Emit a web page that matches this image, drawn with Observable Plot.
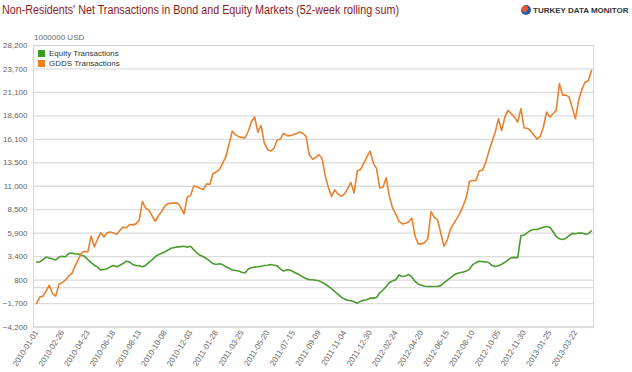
<!DOCTYPE html>
<html>
<head>
<meta charset="utf-8">
<script src="https://cdn.jsdelivr.net/npm/d3@7"></script>
<script src="https://cdn.jsdelivr.net/npm/@observablehq/plot@0.6"></script>
<style>
  html, body { margin: 0; padding: 0; background: #fff; }
  #wrap { position: relative; width: 632px; height: 372px; overflow: hidden; font-family: "Liberation Sans", Arial, sans-serif; }
  #title { position: absolute; left: 2px; top: 3px; font-size: 12.5px; color: #8a1c1c; white-space: nowrap; transform: scaleX(0.86); transform-origin: left top; }
  #logo { position: absolute; left: 521px; top: 5px; font-size: 8px; font-weight: bold; color: #333; white-space: nowrap; display: flex; align-items: center; }
  #logo .globe { width: 10px; height: 10px; border-radius: 50%; background: radial-gradient(circle at 35% 35%, #e8563a 0 35%, #2a5ea8 36% 100%); margin-right: 2px; }
  #unit { position: absolute; left: 34px; top: 33px; font-size: 8px; color: #666; }
  #legend { position: absolute; left: 38px; top: 49px; font-size: 8px; color: #333; background: #fff; padding-right: 4px; }
  #legend div { display: flex; align-items: center; height: 9.5px; }
  #legend span.sw { width: 7px; height: 7px; margin-right: 4px; display: inline-block; }
  #chart { position: absolute; left: 0; top: 0; }
</style>
</head>
<body>
<div id="wrap">
  <div id="chart"></div>
  <div id="title">Non-Residents' Net Transactions in Bond and Equity Markets (52-week rolling sum)</div>
  <div id="logo"><span class="globe"></span>TURKEY DATA MONITOR</div>
  <div id="unit">1000000 USD</div>
  <div id="legend">
    <div><span class="sw" style="background:#3f9a22"></span>Equity Transactions</div>
    <div><span class="sw" style="background:#ef7f1f"></span>GDDS Transactions</div>
  </div>
</div>
<script>
// Weekly observations starting on this date
const startDate = "2010-01-01";

const equity = [
  2810, 2810, 3070, 3350, 3250, 3140, 3030, 3350, 3430, 3390,
  3720, 3790, 3680, 3680, 3540, 3430, 3070, 2740, 2450, 2240,
  1910, 1980, 2050, 2270, 2420, 2270, 2450, 2630, 2890, 2810,
  2520, 2420, 2380, 2270, 2420, 2740, 3030, 3390, 3610, 3750,
  3900, 4110, 4290, 4370, 4440, 4470, 4510, 4400, 4510, 4150,
  3790, 3540, 3390, 3170, 2890, 2630, 2520, 2600, 2520, 2270,
  2130, 1910, 1870, 1800, 1660, 1590, 2020, 2160, 2240, 2270,
  2340, 2420, 2450, 2520, 2450, 2380, 2050, 1800, 1950, 1910,
  1730, 1550, 1370, 1150, 970, 830, 830, 790, 720, 570,
  360, 140, -110, -440, -730, -1010, -1230, -1340, -1410, -1520,
  -1660, -1450, -1340, -1300, -1120, -1120, -1050, -550, -260, 110,
  540, 720, 830, 1370, 1190, 1260, 1410, 1150, 650, 390,
  250, 140, 110, 110, 110, 110, 210, 500, 760, 1040,
  1330, 1530, 1620, 1700, 1800, 2020, 2520, 2740, 2880, 2850,
  2810, 2740, 2410, 2300, 2380, 2560, 2770, 3030, 3280, 3320,
  3280, 5620, 5700, 5950, 6200, 6310, 6310, 6450, 6560, 6630,
  6560, 6090, 5550, 5300, 5230, 5340, 5620, 5880, 5840, 5910,
  5910, 5800, 5840, 6170
];

const gdds = [
  -1700, -1010, -910, -360, 250, -650, -910, 360, 540, 790,
  1260, 1510, 2340, 3070, 3790, 3970, 3900, 5590, 4440, 5230,
  5950, 5480, 5950, 6030, 5920, 5770, 6210, 6570, 6500, 6860,
  6820, 6930, 7330, 9380, 8660, 8480, 7830, 7220, 7830, 8300,
  8910, 9130, 9200, 9200, 9200, 8730, 8050, 9850, 10000, 11010,
  10940, 10790, 10650, 11260, 11190, 12340, 12520, 12780, 13430, 14150,
  15520, 16960, 16600, 16390, 16310, 16240, 16960, 17980, 18480, 16860,
  17580, 15700, 14980, 14800, 15090, 15990, 16130, 16750, 16490, 16490,
  16600, 16710, 16890, 16750, 16420, 14440, 13900, 14080, 14400, 14000,
  12090, 10830, 9920, 10610, 10180, 9920, 10180, 10750, 11400, 10290,
  12630, 12780, 13430, 14150, 14800, 13460, 12880, 10830, 10900, 11910,
  9920, 8660, 8010, 7220, 6930, 7000, 7150, 7580, 5590, 4760,
  4760, 4870, 5340, 8300, 7650, 7400, 5950, 4500, 5120, 6320,
  6930, 7500, 8150, 8900, 9850, 11540, 11610, 11610, 12620, 12700,
  13490, 14750, 15870, 16850, 18300, 17030, 18470, 19190, 18830, 18470,
  17930, 19370, 17310, 17280, 17030, 16560, 16130, 16400, 17390, 19010,
  18470, 18830, 19190, 22080, 20810, 20810, 20630, 19480, 18290, 20270,
  21430, 22260, 22370, 23520
];

const xTickLabels = ["2010-01-01","2010-02-26","2010-04-23","2010-06-18","2010-08-13","2010-10-08","2010-12-03","2011-01-28","2011-03-25","2011-05-20","2011-07-15","2011-09-09","2011-11-04","2011-12-30","2012-02-24","2012-04-20","2012-06-15","2012-08-10","2012-10-05","2012-11-30","2013-01-25","2013-03-22"];

const yTickLabels = [-4200, -1700, 800, 3400, 5900, 8500, 11000, 13500, 16100, 18600, 21100, 23700, 28200];

const seriesNames = ["Equity Transactions", "GDDS Transactions"];
const seriesColors = ["#4a9a2e", "#e8822e"];

// ---- build table ----
const t0 = new Date(startDate + "T00:00:00Z");
const day = 864e5;
const rows = [];
[equity, gdds].forEach((arr, s) => {
  arr.forEach((v, i) => rows.push({date: new Date(+t0 + i * 7 * day), value: v, series: seriesNames[s]}));
});
const lastDate = new Date(+t0 + (gdds.length - 1) * 7 * day);

const W = 632, H = 372;
const mTop = 45, mBottom = 45.5, mLeft = 33, mRight = 39;
const plotH = H - mTop - mBottom;
const yRange = yTickLabels.map((_, k) => H - mBottom - k * plotH / (yTickLabels.length - 1));
const xTicks = xTickLabels.map(s => new Date(s + "T00:00:00Z"));

const chart = Plot.plot({
  width: W,
  height: H,
  marginTop: mTop,
  marginBottom: mBottom,
  marginLeft: mLeft,
  marginRight: mRight,
  style: {fontFamily: "'Liberation Sans', Arial, sans-serif", fontSize: "8px", color: "#666", background: "transparent"},
  x: {type: "utc", domain: [new Date(+t0 - 6.6 * day), new Date(+lastDate + 4.4 * day)]},
  y: {type: "linear", domain: yTickLabels, range: yRange},
  color: {domain: seriesNames, range: seriesColors},
  marks: [
    Plot.ruleY(yTickLabels, {stroke: "#dcdcdc", strokeWidth: 1.3}),
    Plot.ruleY([0], {stroke: "#dcdcdc", strokeWidth: 1.3}),
    Plot.frame({stroke: "#d8d8d8"}),
    Plot.axisY({ticks: yTickLabels, tickSize: 0, tickPadding: 6, tickFormat: d3.format(","), label: null, fill: "#666"}),
    Plot.axisX({ticks: xTicks, tickSize: 0, tickPadding: 4, tickRotate: -58, tickFormat: d3.utcFormat("%Y-%m-%d"), label: null, fill: "#666"}),
    Plot.line(rows, {x: "date", y: "value", z: "series", stroke: "series", strokeWidth: 1.6, curve: "linear"})
  ]
});
document.getElementById("chart").appendChild(chart);
</script>
</body>
</html>
